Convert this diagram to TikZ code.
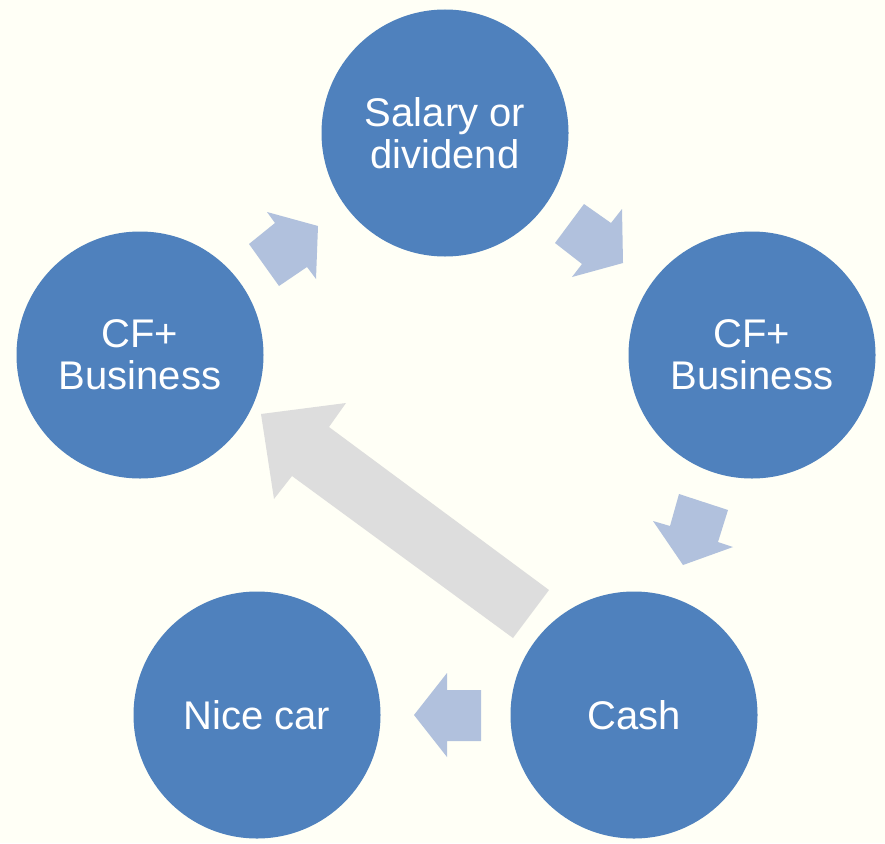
\documentclass[tikz,border=0pt]{standalone}
\usepackage{fontspec}
\setmainfont{Liberation Sans}
\definecolor{bgc}{RGB}{255,255,246}
\definecolor{circc}{RGB}{79,129,189}
\definecolor{arrc}{RGB}{177,193,221}
\definecolor{grayarr}{RGB}{221,221,221}
\begin{document}
\begin{tikzpicture}[x=1pt,y=-1pt,
  stage/.style={circle,fill=circc,draw=none,minimum size=247pt,inner sep=0pt,
    text=white,align=center,font=\fontsize{40}{42}\selectfont},
  blockarrow/.style={fill=arrc,draw=none},
  backarrow/.style={fill=grayarr,draw=none}]
\fill[bgc] (0,0) rectangle (885,843);
\useasboundingbox (0,0) rectangle (885,843);
% big gray arrow
\fill[backarrow] (261,414) -- (346,403) -- (329,427) -- (549,590) -- (513,638) -- (292,476) -- (274,499) -- cycle;
% circles
\node[stage] (sal) at (445,133) {Salary or\\dividend};
\node[stage] (cfr) at (752,355) {CF+\\Business};
\node[stage] (cash) at (634,715) {Cash};
\node[stage] (car) at (257,715) {Nice car};
\node[stage] (cfl) at (140,355) {CF+\\Business};
% small block arrows
\fill[blockarrow] (249,244) -- (275,223) -- (267,212) -- (318,226) -- (316,279) -- (307,267) -- (279,286) -- cycle;
\fill[blockarrow] (584,204) -- (611,223) -- (622,209) -- (623,263) -- (572,277) -- (582,264) -- (555,243) -- cycle;
\fill[blockarrow] (679,494) -- (728,510) -- (718,542) -- (733,547) -- (683,565) -- (653,521) -- (670,526) -- cycle;
\fill[blockarrow] (414,715) -- (447,673) -- (447,690) -- (481,690) -- (481,741) -- (447,741) -- (447,757) -- cycle;
\end{tikzpicture}
\end{document}
